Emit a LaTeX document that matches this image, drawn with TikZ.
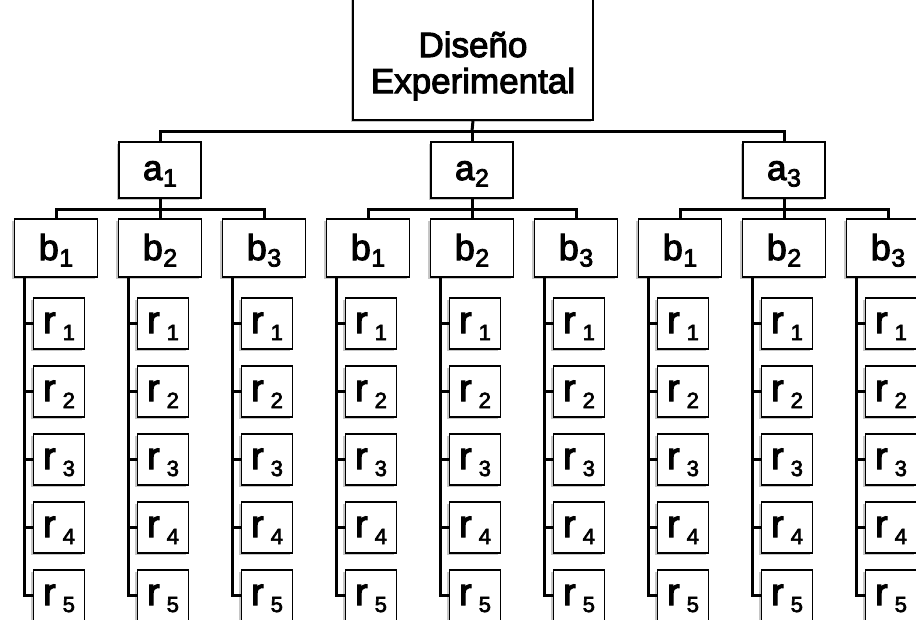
\documentclass[tikz,border=0pt]{standalone}
\usepackage{fontspec}
\setmainfont{Liberation Sans}[FakeBold=3]
\usetikzlibrary{shadows}
\newcommand\sbs[1]{\hspace{0.5pt}\raisebox{-6.5pt}{\fontsize{25}{25}\selectfont #1}}
\newcommand\rsub[1]{\hspace{7pt}\raisebox{-7pt}{\fontsize{22}{22}\selectfont #1}}
\tikzset{
  box/.style={draw, line width=1.6pt, fill=white, inner sep=0pt,
    general shadow={shadow xshift=-2.2pt, shadow yshift=-2.2pt, fill=gray!45}},
  abox/.style={box, minimum width=82pt, minimum height=56pt, text height=24pt, text depth=4pt,
    font=\fontsize{35}{36}\selectfont},
  bbox/.style={box, minimum width=83pt, minimum height=58pt, text height=26pt, text depth=2pt,
    font=\fontsize{36}{38}\selectfont},
  rbox/.style={box, minimum width=51pt, minimum height=51pt, text height=20pt, text depth=1pt,
    font=\fontsize{38}{40}\selectfont},
  conn/.style={line width=3pt, line cap=rect},
}
\begin{document}
\begin{tikzpicture}[x=1pt,y=-1pt]
\useasboundingbox (0,0) rectangle (916,619);
\clip (0,0) rectangle (916,619);
\node[box, minimum width=240pt, minimum height=130pt, text height=20pt, text depth=16pt,
  font=\fontsize{35}{36}\selectfont] (top) at (473,55)
  {\begin{tabular}[t]{@{}c@{}}Diseño\\Experimental\end{tabular}};
\coordinate (bus0) at (472,131);
\draw[conn] (top.south) -- (bus0);
\foreach \g in {1,2,3}{
  \pgfmathsetmacro\ax{160+312*(\g-1)}
  \node[abox] (a\g) at (\ax,170) {a\sbs{\g}};
  \coordinate (bus\g) at (\ax,209);
  \draw[conn] (bus0) -| (a\g.north);
  \draw[conn] (a\g.south) -- (bus\g);
  \foreach \k in {1,2,3}{
    \pgfmathsetmacro\bx{\ax+104*(\k-2)}
    \node[bbox] (b\g\k) at (\bx,248) {b\sbs{\k}};
    \draw[conn] (bus\g) -| (b\g\k.north);
    \foreach \j in {1,...,5}{
      \pgfmathsetmacro\ry{323.5+68*(\j-1)}
      \node[rbox] (r\g\k\j) at (\bx+3,\ry) {r\rsub{\j}};
      \draw[conn] ([xshift=-32pt]b\g\k.south) |- (r\g\k\j.west);
    }
  }
}
\end{tikzpicture}
\end{document}
